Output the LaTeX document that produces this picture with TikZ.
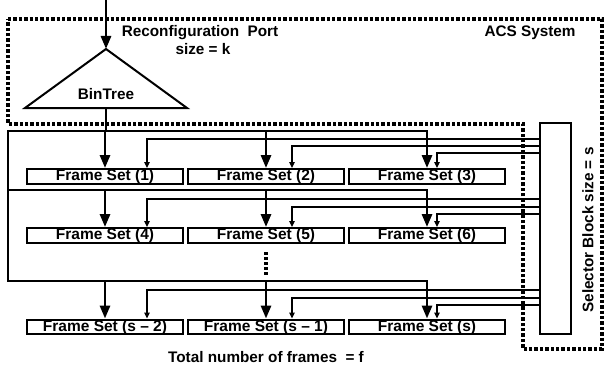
\documentclass[tikz,border=0pt]{standalone}
\usepackage{fontspec}
\setmainfont{Liberation Sans}
\usetikzlibrary{arrows.meta}
\begin{document}
\begin{tikzpicture}[x=1pt,y=-1pt,
  bus/.style={line width=2.8pt},
  bigarrow/.style={line width=2.8pt,-{Triangle[length=13pt,width=10pt]}},
  thinarrow/.style={line width=1.2pt,-{Triangle[length=6pt,width=5.5pt]}},
  acs/.style={line width=3.2pt,dash pattern=on 3.4pt off 2pt},
  fset/.style={draw,line width=2.4pt,minimum width=156pt,minimum height=14.5pt,inner sep=0pt,font=\fontsize{15.5}{15}\selectfont\bfseries},
  lbl/.style={font=\fontsize{15.3}{17}\selectfont\bfseries,inner sep=0pt},
  tri/.style={line width=2pt,line join=miter}
]
\useasboundingbox (0,0) rectangle (604,369);

% ACS system dashed outline
\draw[acs] (8,19) -- (602,19) -- (602,349) -- (523,349) -- (523,124) -- (8,124) -- cycle;

% labels
\node[lbl] (rp) at (200,33) {Reconfiguration\ \ Port};
\node[lbl] (sk) at (203,49) {size = k};
\node[lbl] (acsl) at (530,33) {ACS System};
\node[lbl] (total) at (266,357) {Total number of frames\ \ = f};

% BinTree triangle
\coordinate (in) at (106,0);
\coordinate (apex) at (106,49);
\coordinate (bl) at (25,108);
\coordinate (br) at (187,108);
\coordinate (base) at (106,108);
\draw[tri] (apex) -- (br) -- (bl) -- cycle;
\node[lbl] (bt) at (106,94) {BinTree};
\draw[bigarrow] (in) -- (apex);

% frame sets
\node[fset] (fs1) at (105,176.5) {Frame Set (1)};
\node[fset] (fs2) at (266,176.5) {Frame Set (2)};
\node[fset] (fs3) at (427,176.5) {Frame Set (3)};
\node[fset] (fs4) at (105,235.5) {Frame Set (4)};
\node[fset] (fs5) at (266,235.5) {Frame Set (5)};
\node[fset] (fs6) at (427,235.5) {Frame Set (6)};
\node[fset] (fs7) at (105,327) {Frame Set (s -- 2)};
\node[fset] (fs8) at (266,327) {Frame Set (s -- 1)};
\node[fset] (fs9) at (427,327) {Frame Set (s)};

% selector block
\node[draw,line width=2.4pt,minimum width=31pt,minimum height=211pt,inner sep=0pt] (sel) at (555.5,228.5) {};
\node[lbl,rotate=90] (sellbl) at (588,230) {Selector Block size = s};

% bus
\coordinate (b1) at (8,131);
\coordinate (b2) at (8,190);
\coordinate (b3) at (8,281);
\draw[bus] (base) -- (base |- b1);
\draw[bus,line cap=rect] (b1) -- (b3);
\draw[bigarrow] (b1) -| (fs3.north);
\draw[bigarrow] (b2) -| (fs6.north);
\draw[bigarrow] (b3) -| (fs9.north);
\draw[bigarrow] (fs1.north |- b1) -- (fs1.north);
\draw[bigarrow] (fs2.north |- b1) -- (fs2.north);
\draw[bigarrow] (fs4.north |- b2) -- (fs4.north);
\draw[bigarrow] (fs5.north |- b2) -- (fs5.north);
\draw[bigarrow] (fs7.north |- b3) -- (fs7.north);
\draw[bigarrow] (fs8.north |- b3) -- (fs8.north);

% dots
\coordinate (d1) at (266,252);
\coordinate (d2) at (266,276);
\draw[line width=3.2pt,dash pattern=on 2.8pt off 2.2pt] (d1) -- (d2);

% selector lines
\foreach \n/\y/\dx in {1/139/42,2/146/26,3/153/10,4/199/42,5/207/26,6/214/10,7/290/42,8/298/26,9/305/10}{
  \coordinate (p\n) at (540,\y);
  \draw[thinarrow] (p\n) -| ([xshift=\dx pt]fs\n.north);
}
\end{tikzpicture}
\end{document}
